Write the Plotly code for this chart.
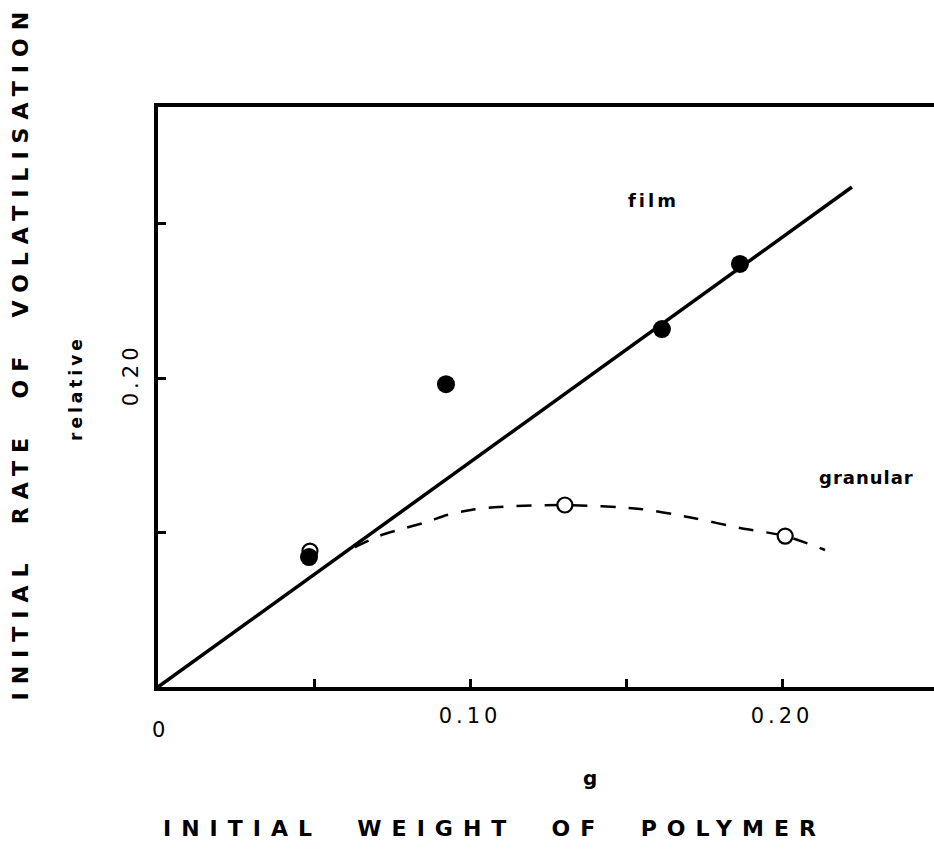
import plotly.graph_objects as go

# Film samples (filled circles)
film_w = [0.0484, 0.0923, 0.1615, 0.1865]
film_rate = [0.0841, 0.196, 0.2317, 0.2738]

# Straight line through the origin for film
film_line_w = [0.0, 0.2224]
film_line_rate = [0.0, 0.3236]

# Granular samples (open circles)
gran_w = [0.0487, 0.1304, 0.201]
gran_rate = [0.088, 0.1178, 0.0977]

# Dashed trend for granular samples
gran_curve_w = [0.0631, 0.0708, 0.0782, 0.0862, 0.0926, 0.1003, 0.1093,
                0.1304, 0.1545, 0.1715, 0.1865, 0.201, 0.2138]
gran_curve_rate = [0.0906, 0.0977, 0.1023, 0.1068, 0.1113, 0.1146, 0.1165,
                   0.1178, 0.1152, 0.1094, 0.1029, 0.0977, 0.0887]

x_tick_vals = [0.05, 0.10, 0.15, 0.20]
x_tick_text = ["", "0.10", "", "0.20"]
y_tick_vals = [0.10, 0.20, 0.30]
y_tick_text = ["", "0.20", ""]

FONT = "DejaVu Sans"
INK = "black"

# plot area in pixels (used to place free text around the frame)
L, R, T, B = 158, 934, 107, 687


def px(x):
    return (x - L) / (R - L)


def py(y):
    return (B - y) / (B - T)


def spaced(s, gap):
    return '<span style="letter-spacing:%dpx">%s</span>' % (gap, s)


fig = go.Figure()

fig.add_trace(go.Scatter(
    x=gran_curve_w, y=gran_curve_rate, mode="lines",
    line=dict(color=INK, width=2.5, dash="15px,13px", shape="spline", smoothing=0.8),
    hoverinfo="skip"))

fig.add_trace(go.Scatter(
    x=film_line_w, y=film_line_rate, mode="lines",
    line=dict(color=INK, width=3.5), hoverinfo="skip"))

fig.add_trace(go.Scatter(
    x=gran_w, y=gran_rate, mode="markers",
    marker=dict(symbol="circle", size=15, color="white",
                line=dict(color=INK, width=2.2))))

fig.add_trace(go.Scatter(
    x=film_w, y=film_rate, mode="markers",
    marker=dict(symbol="circle", size=18, color=INK, line=dict(width=0))))

tick_font = dict(family=FONT, size=21, color=INK)

fig.update_xaxes(
    range=[0, 0.2487], showgrid=False, zeroline=False,
    showline=True, linewidth=4, linecolor=INK, mirror=True,
    ticks="inside", ticklen=8, tickwidth=3, tickcolor=INK,
    tickvals=x_tick_vals, ticktext=[spaced(t, 4) for t in x_tick_text],
    tickfont=tick_font, ticklabelstandoff=7)

fig.update_yaxes(
    range=[0, 0.3754], showgrid=False, zeroline=False,
    showline=True, linewidth=4, linecolor=INK, mirror=False,
    ticks="inside", ticklen=8, tickwidth=3, tickcolor=INK,
    tickvals=y_tick_vals, ticktext=[spaced(t, 4) for t in y_tick_text],
    tickangle=-90, tickfont=tick_font, ticklabelstandoff=8)

nb = "&nbsp;&nbsp;"
annotations = [
    # origin label
    dict(x=0, y=0, xref="x", yref="y", text="0", showarrow=False,
         font=dict(family=FONT, size=21, color=INK), yshift=-43),
    # curve labels
    dict(x=0.1587, y=0.315, xref="x", yref="y", text=spaced("film", 3),
         showarrow=False, font=dict(family=FONT, size=18, color=INK, weight="bold")),
    dict(x=0.2272, y=0.1353, xref="x", yref="y", text=spaced("granular", 1),
         showarrow=False, font=dict(family=FONT, size=18, color=INK, weight="bold")),
    # unit
    dict(x=px(590), y=py(792), xref="paper", yref="paper", text="g",
         showarrow=False, font=dict(family=FONT, size=20, color=INK, weight="bold")),
    # axis titles
    dict(x=px(494), y=py(843), xref="paper", yref="paper",
         text=spaced("INITIAL" + nb + "WEIGHT" + nb + "OF" + nb + "POLYMER", 10),
         showarrow=False, font=dict(family=FONT, size=22, color=INK, weight="bold")),
    dict(x=px(5), y=py(352), xref="paper", yref="paper", textangle=-90,
         text=spaced("INITIAL" + nb + "RATE" + nb + "OF" + nb + "VOLATILISATION", 8),
         showarrow=False, font=dict(family=FONT, size=22, color=INK, weight="bold")),
    dict(x=px(64), y=py(388), xref="paper", yref="paper", textangle=-90,
         text=spaced("relative", 4),
         showarrow=False, font=dict(family=FONT, size=17, color=INK, weight="bold")),
]

fig.update_layout(
    width=934, height=858,
    margin=dict(l=L, r=934 - R, t=T, b=858 - B, autoexpand=False),
    paper_bgcolor="white", plot_bgcolor="white",
    showlegend=False,
    annotations=annotations,
)

fig.write_html("out.html")
